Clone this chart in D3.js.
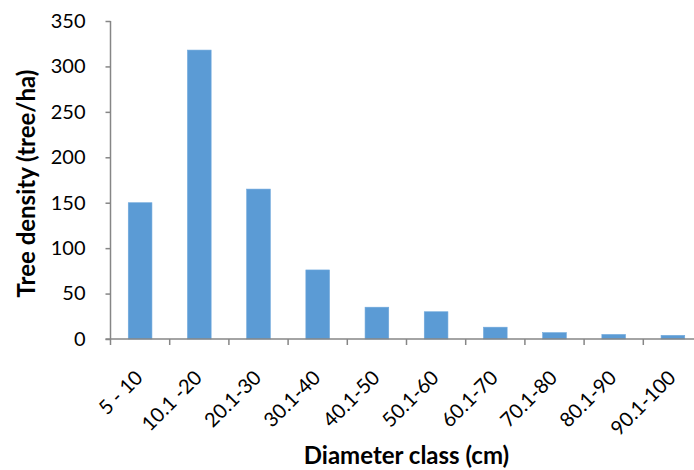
<!DOCTYPE html>
<html><head><meta charset="utf-8">
<script src="https://cdn.jsdelivr.net/npm/d3@7"></script>
<style>body{margin:0;background:#fff;} svg{display:block;}</style>
</head><body>
<script>
const categories = ["5 - 10","10.1 -20","20.1-30","30.1-40","40.1-50","50.1-60","60.1-70","70.1-80","80.1-90","90.1-100"];
const density = [150, 318, 165, 76, 35, 30, 13, 7, 5, 4];
const yTicks = [0, 50, 100, 150, 200, 250, 300, 350];

const W = 694, H = 470;
const m = {left: 110.5, top: 21, bottom: 339};
const plotRight = 702.5;
const font = "Lato, 'Open Sans', sans-serif";

const svg = d3.select("body").append("svg").attr("width", W).attr("height", H);

const x = d3.scaleBand().domain(categories).range([m.left, plotRight]).paddingInner(0.6).paddingOuter(0.3);
const xb = d3.scaleBand().domain(categories).range([m.left, plotRight]);
const y = d3.scaleLinear().domain([0, 350]).range([m.bottom, m.top]);

svg.append("g").selectAll("rect").data(density).join("rect")
  .attr("x", (d,i) => x(categories[i]))
  .attr("width", x.bandwidth())
  .attr("y", d => y(d))
  .attr("height", d => y(0) - y(d))
  .attr("fill", "#5B9BD5")
  .attr("stroke", "#6FA8DC").attr("stroke-width", 0.6);

// Y axis
const ya = svg.append("g").attr("transform", `translate(${m.left},0)`)
  .call(d3.axisLeft(y).tickValues(yTicks).tickSize(5).tickPadding(20));
ya.select(".domain").attr("stroke", "#868686").attr("stroke-width", 1.5).attr("d", `M0,${m.top}V${m.bottom}`);
ya.selectAll(".tick line").attr("stroke", "#868686").attr("stroke-width", 1.5);
ya.selectAll(".tick text").attr("font-family", font).attr("font-size", 20).attr("fill", "#000");

// X axis
const xa = svg.append("g").attr("transform", `translate(0,${m.bottom})`);
xa.append("line").attr("x1", m.left - 5).attr("x2", W).attr("y1", 0).attr("y2", 0)
  .attr("stroke", "#868686").attr("stroke-width", 1.5);
const bounds = categories.map(c => xb(c)).concat([xb(categories[categories.length-1]) + xb.bandwidth()]);
xa.selectAll("line.tk").data(bounds).join("line").attr("class","tk")
  .attr("x1", d => d).attr("x2", d => d).attr("y1", 0).attr("y2", 6)
  .attr("stroke", "#868686").attr("stroke-width", 1.5);
xa.selectAll("text").data(categories).join("text")
  .attr("transform", d => `translate(${xb(d) + xb.bandwidth()/2 - 1},${35}) rotate(-45)`)
  .attr("text-anchor", "end").attr("dy", "0.35em")
  .attr("font-family", font).attr("font-size", 20).attr("fill", "#000")
  .text(d => d);

// Titles
svg.append("text").attr("transform", `translate(35,183.5) rotate(-90)`)
  .attr("text-anchor", "middle").attr("font-family", font).attr("font-weight", "bold")
  .attr("font-size", 24).text("Tree density (tree/ha)");
svg.append("text").attr("x", 406.5).attr("y", 464)
  .attr("text-anchor", "middle").attr("font-family", font).attr("font-weight", "bold")
  .attr("font-size", 24).text("Diameter class (cm)");
</script>
</body></html>
